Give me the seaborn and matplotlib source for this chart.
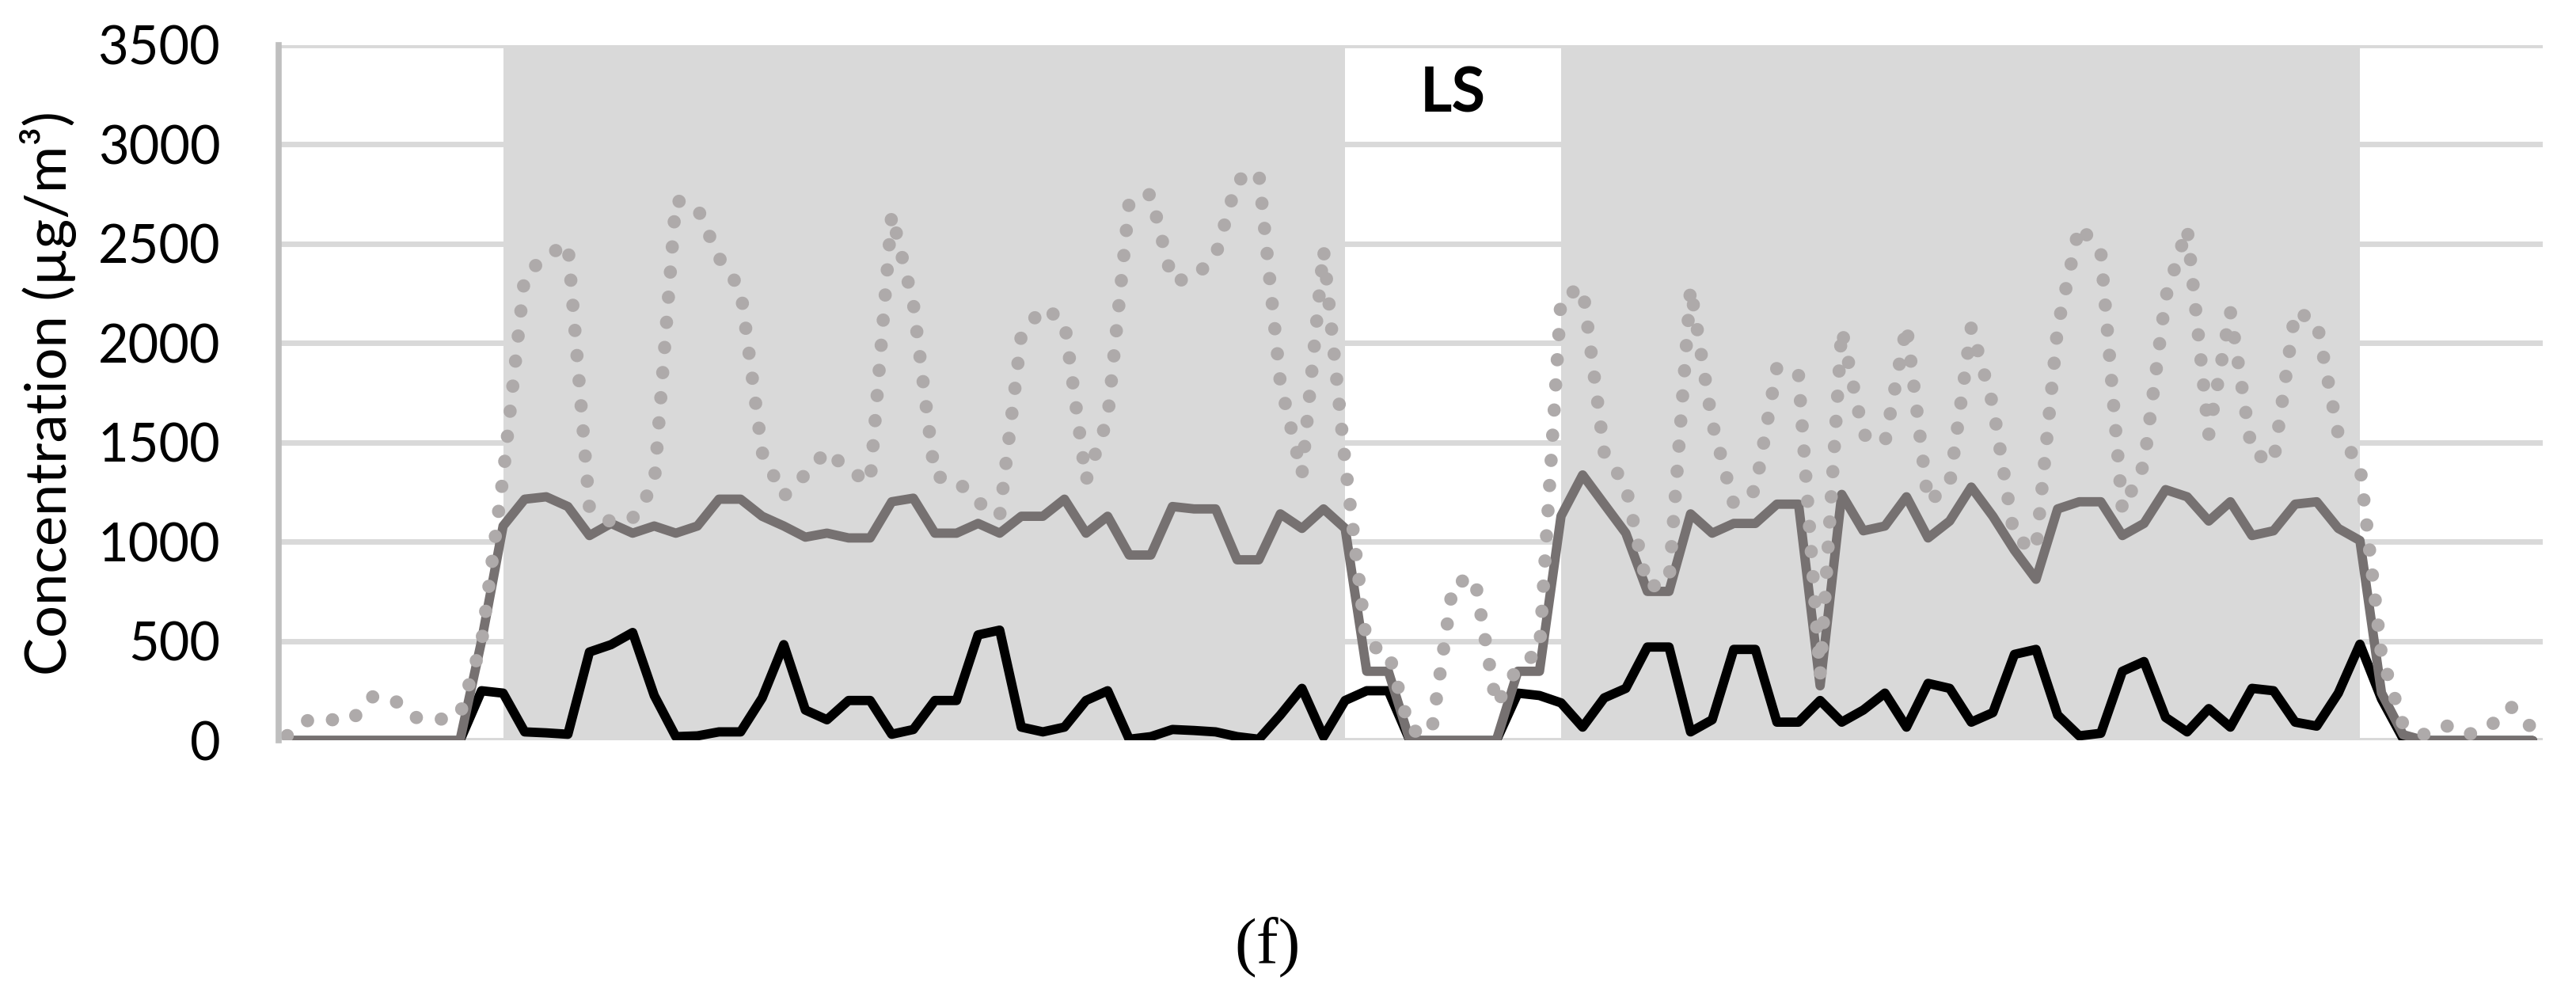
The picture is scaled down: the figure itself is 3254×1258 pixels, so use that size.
import numpy as np
import pandas as pd
import seaborn as sns
from matplotlib import pyplot as plt

# valori (indice di campione 0..104)
black_line = [
    0, 0, 0, 0, 0, 0, 0, 0, 0, 251, 239, 44, 39, 32, 446, 483, 544, 227, 20, 24,
    44, 44, 215, 483, 154, 105, 202, 202, 32, 56, 202, 202, 532, 556, 68, 44, 68, 202, 251, 7,
    20, 56, 51, 44, 20, 7, 129, 263, 20, 202, 251, 251, 0, 0, 0, 0, 0, 239, 227, 190,
    68, 215, 263, 471, 471, 44, 105, 459, 459, 93, 93, 202, 93, 154, 239, 68, 288, 263, 93, 141,
    434, 459, 129, 24, 37, 349, 398, 117, 44, 161, 68, 263, 251, 93, 73, 239, 485, 210, 10, 0,
    0, 0, 0, 0, 0,
]
gray_line = [
    0, 0, 0, 0, 0, 0, 0, 0, 0, 500, 1080, 1215, 1227, 1178, 1032, 1093, 1044, 1080, 1044, 1080,
    1215, 1215, 1129, 1080, 1024, 1044, 1020, 1020, 1202, 1220, 1044, 1044, 1093, 1044, 1129, 1129, 1215, 1044, 1129, 934,
    934, 1178, 1166, 1166, 910, 910, 1141, 1068, 1166, 1068, 349, 349, 0, 0, 0, 0, 0, 349, 349, 1130,
    1337, 1190, 1044, 751, 751, 1141, 1044, 1093, 1093, 1190, 1190, 276, 1239, 1056, 1080, 1227, 1020, 1105, 1276, 1129,
    958, 812, 1166, 1202, 1202, 1032, 1093, 1263, 1227, 1105, 1202, 1032, 1056, 1190, 1202, 1068, 1007, 240, 30, 0,
    0, 0, 0, 0, 0,
]
dotted_line = [
    25, 105, 105, 105, 225, 200, 115, 105, 130, 490, 1330, 2340, 2440, 2500, 1170, 1100, 1120, 1290, 2720, 2680,
    2430, 2270, 1450, 1230, 1340, 1460, 1360, 1300, 2650, 2200, 1330, 1310, 1200, 1130, 2040, 2180, 2110, 1310, 1620, 2715,
    2750, 2310, 2330, 2440, 2820, 2860, 1800, 1340, 2470, 1400, 480, 450, 50, 40, 790, 820, 180, 370, 450, 2230,
    2280, 1450, 1280, 770, 800, 2280, 1600, 1190, 1260, 1880, 1840, 330, 2070, 1540, 1500, 2090, 1200, 1290, 2080, 1690,
    1020, 960, 2080, 2590, 2460, 1160, 1390, 2230, 2580, 1540, 2160, 1450, 1400, 2160, 2110, 1540, 1390, 430, 80, 30,
    75, 30, 70, 170, 60,
]
# periodi ombreggiati (inizio, fine) in indici di campione
shaded_periods = [(10, 49), (59, 96)]
gap_label = "LS"
y_ticks = [0, 500, 1000, 1500, 2000, 2500, 3000, 3500]

df = pd.DataFrame(
    {
        "t": np.arange(len(black_line)),
        "black": black_line,
        "gray": gray_line,
        "dotted": dotted_line,
    }
)

sns.set_style("white")
plt.rcParams["font.family"] = ["Lato", "DejaVu Sans"]
plt.rcParams["text.color"] = "black"
plt.rcParams["axes.labelcolor"] = "black"
plt.rcParams["ytick.color"] = "black"

fig = plt.figure(figsize=(32.55, 12.58), dpi=100)
ax = fig.add_axes([0.1081, 0.2564, 0.8787, 0.6983])

for start, end in shaded_periods:
    ax.axvspan(start, end, ymin=0, ymax=1, color="#D9D9D9", lw=0, zorder=1)

sns.lineplot(data=df, x="t", y="black", ax=ax, color="black", lw=8.5, zorder=3)
sns.lineplot(data=df, x="t", y="gray", ax=ax, color="#767171", lw=8.5, zorder=4)
sns.lineplot(
    data=df,
    x="t",
    y="dotted",
    ax=ax,
    color="#AEAAAA",
    lw=12,
    linestyle=(0, (0.01, 1.9)),
    dash_capstyle="round",
    zorder=5,
)

ax.set_xlim(-0.4, 104.47)
ax.set_ylim(0, 3500)
ax.set_yticks(y_ticks)
ax.set_xticks([])
ax.set_xlabel("")
ax.grid(axis="y", color="#D9D9D9", lw=5)
ax.set_axisbelow(True)
ax.tick_params(axis="y", length=0, pad=53, labelsize=48, labelcolor="black")

for side in ["top", "right", "bottom"]:
    ax.spines[side].set_visible(False)
ax.spines["left"].set_color("#BFBFBF")
ax.spines["left"].set_linewidth(5.5)
ax.spines["left"].set_zorder(6)

ax.set_ylabel("Concentration (µg/m³)", fontsize=52, color="black")
ax.yaxis.set_label_coords(-0.089, 0.5)

gap_center = (shaded_periods[0][1] + shaded_periods[1][0]) / 2
ax.text(gap_center, 3250, gap_label, ha="center", va="center", fontsize=56,
        fontweight="bold", color="black", zorder=7)

fig.text(0.492, 0.049, "(f)", ha="center", va="center", fontsize=60, color="black",
         family=["Liberation Serif", "DejaVu Serif"])

plt.savefig("out.png", dpi=100)
